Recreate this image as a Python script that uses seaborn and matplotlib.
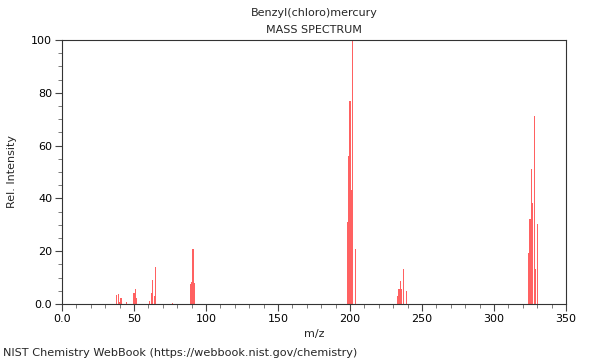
import matplotlib
matplotlib.use("Agg")
import matplotlib.pyplot as plt
from matplotlib.ticker import MultipleLocator
import seaborn as sns
import pandas as pd

# m/z values and relative intensities
mz = [38, 39, 40, 41, 45, 50, 51, 52, 61, 62, 63, 64, 65, 77,
      89, 90, 91, 92,
      198, 199, 200, 201, 202, 204,
      233, 234, 235, 236, 237, 239,
      324, 325, 326, 327, 328, 329, 330]
intensity = [3.4, 3.8, 0.9, 2.1, 0.6, 4.3, 5.8, 2.2, 1.0, 4.0, 9.1, 3.0, 14.1, 0.5,
             7.4, 8.2, 21.0, 8.0,
             31.0, 56.0, 77.0, 43.0, 100.0, 21.0,
             3.0, 5.7, 8.7, 5.7, 13.1, 4.9,
             19.2, 32.2, 51.1, 38.1, 71.2, 13.1, 30.2]

x_ticks = [0, 50, 100, 150, 200, 250, 300, 350]
x_tick_labels = ["0.0", "50", "100", "150", "200", "250", "300", "350"]
y_ticks = [0, 20, 40, 60, 80, 100]
y_tick_labels = ["0.0", "20", "40", "60", "80", "100"]

title_compound = "Benzyl(chloro)mercury"
title_kind = "MASS SPECTRUM"
credit = "NIST Chemistry WebBook (https://webbook.nist.gov/chemistry)"

df = pd.DataFrame({"mz": mz, "intensity": intensity})

sns.set_theme(style="white")
plt.rcParams["font.family"] = ["DejaVu Sans"]

fig = plt.figure(figsize=(6, 3.6), dpi=100)
ax = fig.add_axes([62 / 600, 1 - 304 / 360, (566 - 62) / 600, (304 - 40) / 360])

sns.histplot(data=df, x="mz", weights="intensity", discrete=True, shrink=0.8,
             color="#ff0000", alpha=0.62, linewidth=0, ax=ax)

ax.set_xlim(0, 350)
ax.set_ylim(0, 100)
ax.set_xticks(x_ticks)
ax.set_xticklabels(x_tick_labels)
ax.set_yticks(y_ticks)
ax.set_yticklabels(y_tick_labels)
ax.xaxis.set_minor_locator(MultipleLocator(10))
ax.yaxis.set_minor_locator(MultipleLocator(5))
ax.tick_params(axis="both", which="major", direction="out", length=5, width=0.8,
               color="#444444", labelsize=8, labelcolor="black",
               bottom=True, left=True, pad=2)
ax.tick_params(axis="both", which="minor", direction="out", length=3, width=0.6,
               color="#666666", bottom=True, left=True)
for s in ax.spines.values():
    s.set_color("#333333")
    s.set_linewidth(0.8)

ax.set_xlabel("m/z", fontsize=8, labelpad=4)
ax.set_ylabel("Rel. Intensity", fontsize=8, labelpad=10)
ax.grid(False)

fig.text(314 / 600, 1 - 13 / 360, title_compound, ha="center", va="center", fontsize=8)
fig.text(314 / 600, 1 - 30 / 360, title_kind, ha="center", va="center", fontsize=8)
fig.text(3 / 600, 1 - 353 / 360, credit, ha="left", va="center", fontsize=8.15)

fig.savefig("out.png", dpi=100)
